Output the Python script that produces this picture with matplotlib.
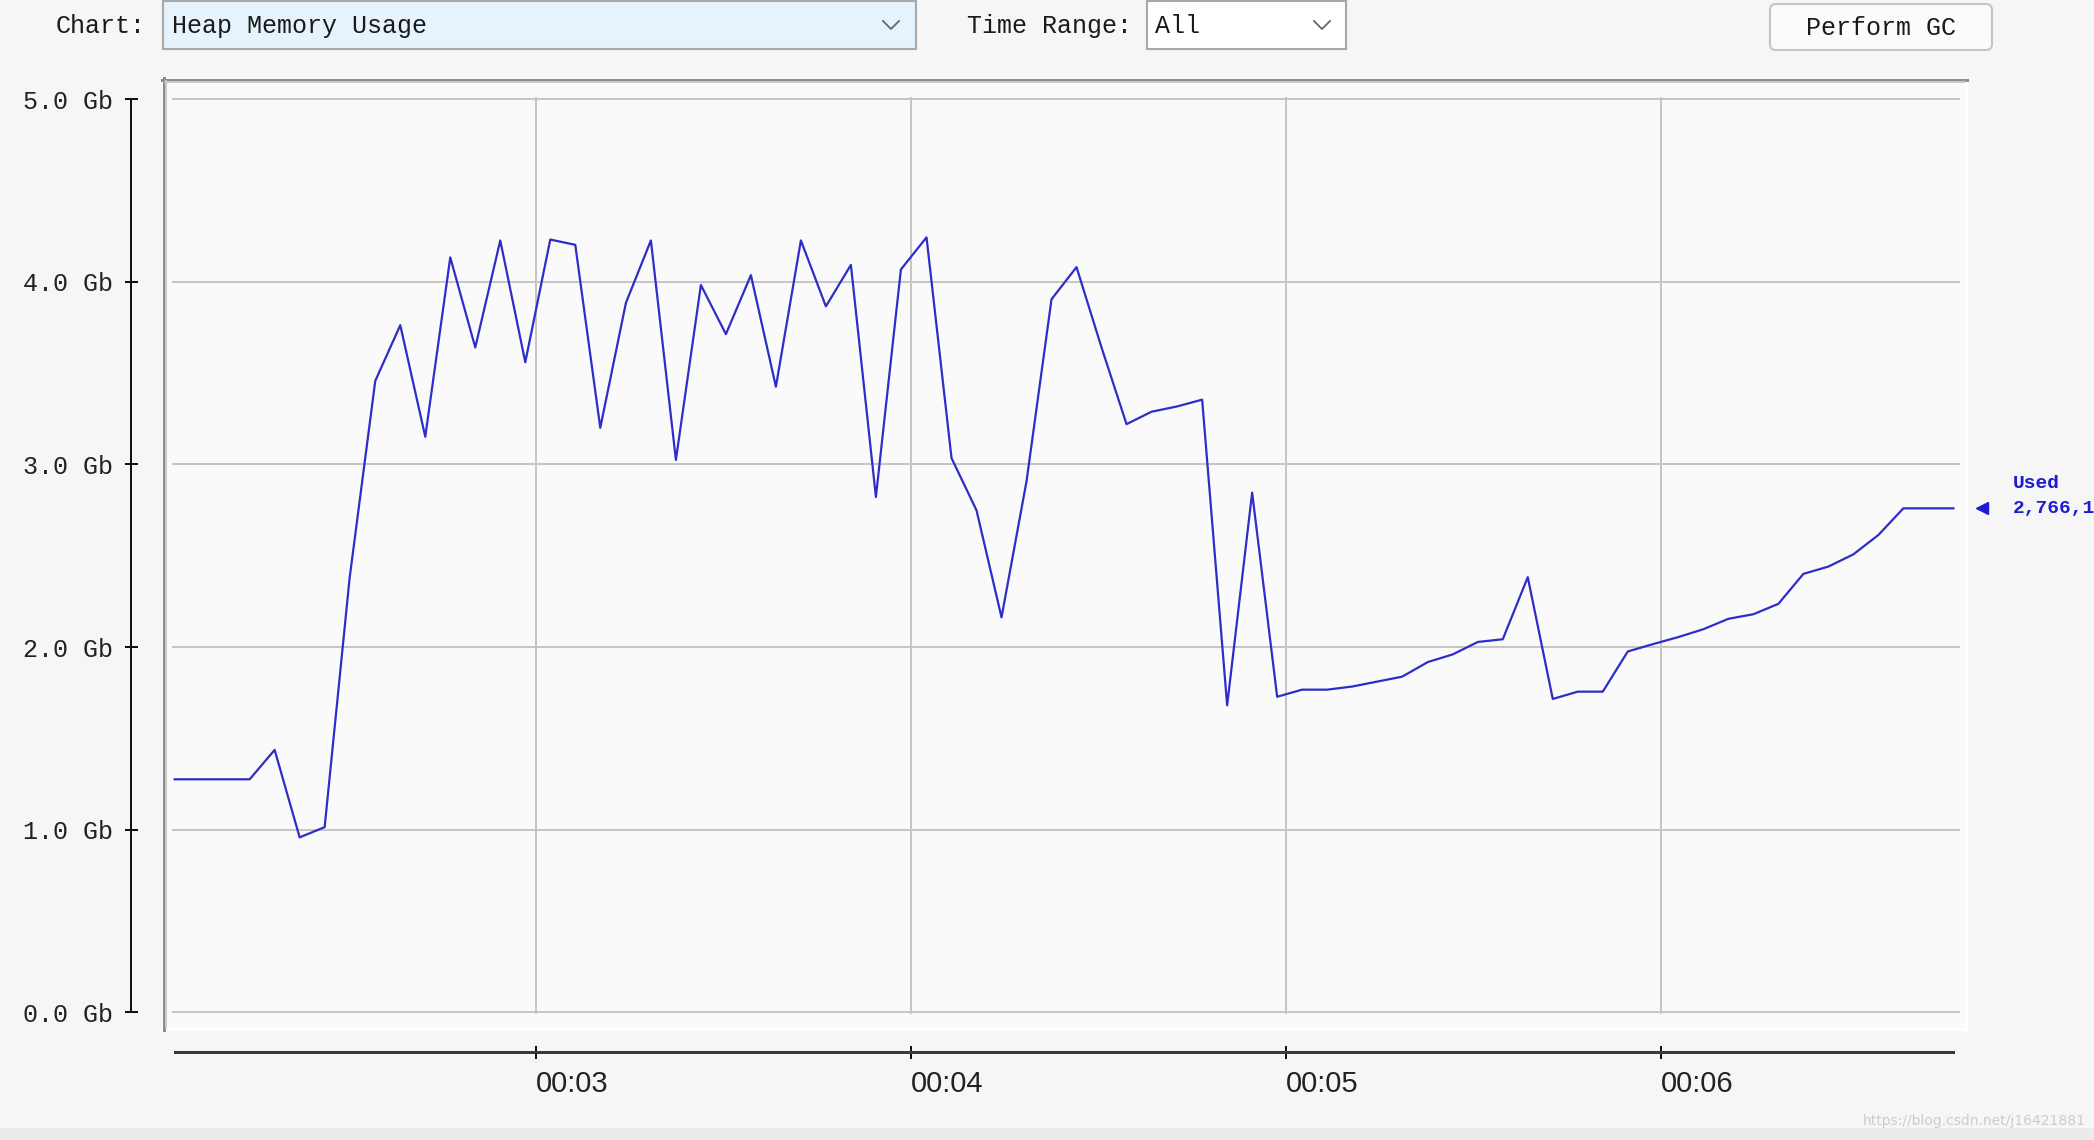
import matplotlib
matplotlib.use("Agg")
import matplotlib.pyplot as plt
from matplotlib.patches import Rectangle, FancyBboxPatch
from matplotlib.transforms import blended_transform_factory

W, H = 2094, 1140
DPI = 100

# sample times (seconds of uptime) and used heap (Gb)
times_s = [
    122.2, 126.2, 130.2, 134.2, 138.2, 142.2, 146.2, 150.2, 154.3, 158.3,
    162.3, 166.3, 170.3, 174.3, 178.3, 182.3, 186.3, 190.3, 194.4, 198.4,
    202.4, 206.4, 210.4, 214.4, 218.4, 222.4, 226.4, 230.4, 234.4, 238.4,
    242.5, 246.5, 250.5, 254.5, 258.5, 262.5, 266.5, 270.5, 274.5, 278.5,
    282.6, 286.6, 290.6, 294.6, 298.6, 302.6, 306.6, 310.6, 314.6, 318.6,
    322.7, 326.7, 330.7, 334.7, 338.7, 342.7, 346.7, 350.7, 354.7, 358.7,
    362.8, 366.8, 370.8, 374.8, 378.8, 382.8, 386.8, 390.8, 394.8, 398.8,
    402.8, 406.8,
]
heap_used_gb = [
    1.276, 1.276, 1.276, 1.276, 1.437, 0.958, 1.014, 2.380, 3.458, 3.763,
    3.152, 4.134, 3.641, 4.227, 3.560, 4.232, 4.203, 3.201, 3.885, 4.227,
    3.025, 3.983, 3.714, 4.037, 3.426, 4.227, 3.866, 4.093, 2.822, 4.068,
    4.244, 3.035, 2.749, 2.163, 2.908, 3.905, 4.081, 3.641, 3.221, 3.289,
    3.318, 3.355, 1.681, 2.846, 1.728, 1.767, 1.767, 1.784, 1.811, 1.838,
    1.918, 1.960, 2.028, 2.043, 2.383, 1.716, 1.756, 1.756, 1.976, 2.016,
    2.055, 2.098, 2.155, 2.180, 2.237, 2.401, 2.441, 2.508, 2.614, 2.760,
    2.760, 2.760,
]
x_ticks = [180, 240, 300, 360]
x_tick_labels = ["00:03", "00:04", "00:05", "00:06"]
y_ticks = [0, 1, 2, 3, 4, 5]
y_tick_labels = ["0.0 Gb", "1.0 Gb", "2.0 Gb", "3.0 Gb", "4.0 Gb", "5.0 Gb"]

chart_choice = "Heap Memory Usage"
range_choice = "All"
used_label = "Used"
used_value_text = "2,766,1"
watermark = "https://blog.csdn.net/j16421881"

MONO = "Liberation Mono"
LINE_BLUE = "#2d2dc8"
TEXT_BLUE = "#1c1cd0"


def px(v):
    # pixels -> points at this dpi
    return v * 72.0 / DPI


fig = plt.figure(figsize=(W / DPI, H / DPI), dpi=DPI, facecolor="#f6f6f6")

# --- window chrome, drawn in pixel coordinates ---
bg = fig.add_axes([0, 0, 1, 1], zorder=0)
bg.set_xlim(0, W)
bg.set_ylim(H, 0)
bg.axis("off")

bar_kw = dict(family=MONO, fontsize=18, color="#1a1a1a", va="center", ha="left")
bg.text(56, 26, "Chart:", **bar_kw)
bg.add_patch(Rectangle((163, 1), 753, 48, facecolor="#e6f3fc", edgecolor="#a8a8a8", lw=1.5))
bg.text(172, 26, chart_choice, **bar_kw)
bg.plot([883, 891, 899], [21, 29, 21], color="#666666", lw=1.3)

bg.text(967, 26, "Time Range:", **bar_kw)
bg.add_patch(Rectangle((1147, 1), 199, 48, facecolor="#ffffff", edgecolor="#a8a8a8", lw=1.5))
bg.text(1155, 26, range_choice, **bar_kw)
bg.plot([1314, 1322, 1330], [21, 29, 21], color="#666666", lw=1.3)

bg.add_patch(FancyBboxPatch((1770, 4), 222, 46, boxstyle="round,pad=0,rounding_size=6",
                            facecolor="#fbfbfb", edgecolor="#c4c4c4", lw=1.5))
bg.text(1881, 28, "Perform GC", family=MONO, fontsize=18, color="#1a1a1a",
        ha="center", va="center")

# chart panel with sunken border
bg.add_patch(Rectangle((162, 78), 1805, 952, facecolor="#fafafa", edgecolor="none"))
bg.plot([1966, 1966], [80, 1030], color="#ffffff", lw=px(3))
bg.plot([163, 1966], [1029, 1029], color="#ffffff", lw=px(3))
bg.plot([163.5, 163.5], [78, 1030], color="#8c8c8c", lw=px(3))
bg.plot([162, 1967], [79.5, 79.5], color="#8c8c8c", lw=px(3))
bg.plot([166, 166], [81, 1028], color="#c8c8c8", lw=px(2))
bg.plot([165, 1965], [82, 82], color="#c8c8c8", lw=px(2))

bg.add_patch(Rectangle((0, 1128), W, 12, facecolor="#ebebeb", edgecolor="none"))
bg.text(2086, 1121, watermark, family="DejaVu Sans", fontsize=10, color="#cccccc",
        ha="right", va="center")

# --- plot area ---
X0, X1 = 171.7, 1960.0        # pixel extent of the grid
Y5, Y0 = 99.3, 1012.3
PAD = 0.012
gb_px = (Y0 - Y5) / 5.0
sec_px = 6.25
t_left = 180 + (X0 - 535.9) / sec_px
t_right = 180 + (X1 - 535.9) / sec_px

ax = fig.add_axes([X0 / W, (H - Y0 - PAD * gb_px) / H, (X1 - X0) / W,
                   (Y0 - Y5 + 2 * PAD * gb_px) / H], zorder=1)
ax.set_facecolor("none")
ax.set_xlim(t_left, t_right)
ax.set_ylim(-PAD, 5 + PAD)

ax.grid(True, color="#c6c6c6", lw=px(2))
ax.set_axisbelow(True)

ax.plot(times_s, heap_used_gb, color=LINE_BLUE, lw=1.6, zorder=3)

for s in ("top", "right"):
    ax.spines[s].set_visible(False)
ax.spines["left"].set_position(("outward", px(X0 - 130.7)))
ax.spines["left"].set_bounds(0, 5)
ax.spines["left"].set_linewidth(px(2))
ax.spines["left"].set_color("#111111")
ax.spines["bottom"].set_position(("outward", px(1050 - Y0)))
ax.spines["bottom"].set_bounds(times_s[0], times_s[-1])
ax.spines["bottom"].set_linewidth(px(3))
ax.spines["bottom"].set_color("#3a3a3a")

ax.set_yticks(y_ticks)
ax.set_yticklabels(y_tick_labels, family=MONO, fontsize=18, color="#222222")
ax.set_xticks(x_ticks)
ax.set_xticklabels(x_tick_labels, family="Liberation Sans", fontsize=21,
                   color="#222222", ha="left")
ax.tick_params(axis="y", direction="inout", length=px(13), width=px(2),
               color="#111111", pad=8)
ax.tick_params(axis="x", direction="inout", length=px(13), width=px(2),
               color="#111111", pad=8)

# current value marker to the right of the plot
trans = blended_transform_factory(ax.transAxes, ax.transData)
last = heap_used_gb[-1]
ax.plot([(1982 - X0) / (X1 - X0)], [last], marker="<", ms=8, color=TEXT_BLUE,
        transform=trans, clip_on=False, lw=0)
tx = (2013 - X0) / (X1 - X0)
ax.annotate(used_label, xy=(tx, last), xycoords=trans, xytext=(0, px(25)),
            textcoords="offset points", family=MONO, weight="bold", fontsize=14,
            color=TEXT_BLUE, ha="left", va="center", annotation_clip=False)
ax.annotate(used_value_text, xy=(tx, last), xycoords=trans, family=MONO,
            weight="bold", fontsize=14, color=TEXT_BLUE, ha="left", va="center",
            annotation_clip=False)

fig.savefig("out.png", dpi=DPI, facecolor=fig.get_facecolor())
